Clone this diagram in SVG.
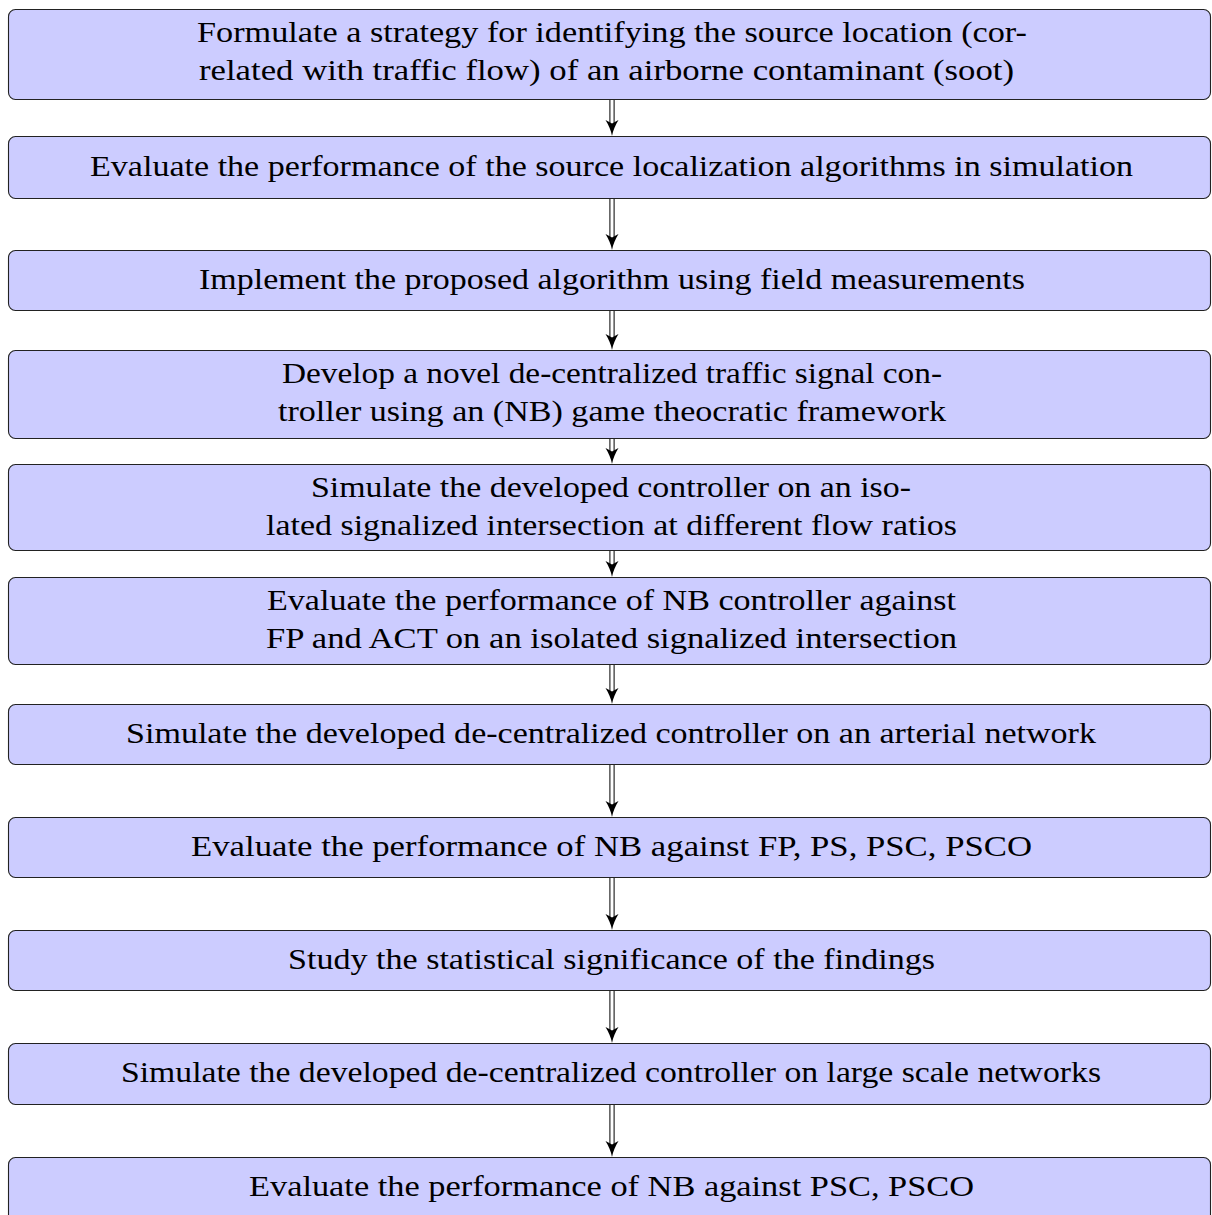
<svg xmlns="http://www.w3.org/2000/svg" width="1212" height="1215" viewBox="0 0 1212 1215">
<style>
.box{fill:#ccccff;stroke:#222;stroke-width:1.1}
.t{font-family:"Liberation Serif","Times New Roman",serif;font-size:29px;fill:#000}
.so{stroke:#000;stroke-width:5.2;fill:none}
.si{stroke:#fff;stroke-width:3.2;fill:none}
.hd{fill:#000}
</style>
<defs>
<path id="head" d="M0 0 C-1 -6 -3.5 -11 -6.5 -16 L0 -12.5 L6.5 -16 C3.5 -11 1 -6 0 0 Z"/>
</defs>
<rect width="1212" height="1215" fill="#fff"/>
<g id="connectors">
<g><line class="so" x1="612" y1="100" x2="612" y2="123"/><line class="si" x1="612" y1="99" x2="612" y2="123"/><use href="#head" x="612" y="136" class="hd"/></g>
<g><line class="so" x1="612" y1="199" x2="612" y2="237"/><line class="si" x1="612" y1="198" x2="612" y2="237"/><use href="#head" x="612" y="250" class="hd"/></g>
<g><line class="so" x1="612" y1="311" x2="612" y2="337"/><line class="si" x1="612" y1="310" x2="612" y2="337"/><use href="#head" x="612" y="350" class="hd"/></g>
<g><line class="so" x1="612" y1="439" x2="612" y2="451"/><line class="si" x1="612" y1="438" x2="612" y2="451"/><use href="#head" x="612" y="464" class="hd"/></g>
<g><line class="so" x1="612" y1="551" x2="612" y2="564"/><line class="si" x1="612" y1="550" x2="612" y2="564"/><use href="#head" x="612" y="577" class="hd"/></g>
<g><line class="so" x1="612" y1="665" x2="612" y2="691"/><line class="si" x1="612" y1="664" x2="612" y2="691"/><use href="#head" x="612" y="704" class="hd"/></g>
<g><line class="so" x1="612" y1="765" x2="612" y2="804"/><line class="si" x1="612" y1="764" x2="612" y2="804"/><use href="#head" x="612" y="817" class="hd"/></g>
<g><line class="so" x1="612" y1="878" x2="612" y2="917"/><line class="si" x1="612" y1="877" x2="612" y2="917"/><use href="#head" x="612" y="930" class="hd"/></g>
<g><line class="so" x1="612" y1="991" x2="612" y2="1030"/><line class="si" x1="612" y1="990" x2="612" y2="1030"/><use href="#head" x="612" y="1043" class="hd"/></g>
<g><line class="so" x1="612" y1="1105" x2="612" y2="1144"/><line class="si" x1="612" y1="1104" x2="612" y2="1144"/><use href="#head" x="612" y="1157" class="hd"/></g>
</g>
<g id="n1"><rect class="box" x="8.5" y="9.5" width="1202" height="90" rx="7"/>
<text class="t" x="197" y="42" textLength="830" lengthAdjust="spacingAndGlyphs">Formulate a strategy for identifying the source location (cor-</text>
<text class="t" x="199" y="80" textLength="815" lengthAdjust="spacingAndGlyphs">related with traffic flow) of an airborne contaminant (soot)</text></g>
<g id="n2"><rect class="box" x="8.5" y="136.5" width="1202" height="62" rx="7"/>
<text class="t" x="90" y="176" textLength="1043" lengthAdjust="spacingAndGlyphs">Evaluate the performance of the source localization algorithms in simulation</text></g>
<g id="n3"><rect class="box" x="8.5" y="250.5" width="1202" height="60" rx="7"/>
<text class="t" x="199" y="289" textLength="826" lengthAdjust="spacingAndGlyphs">Implement the proposed algorithm using field measurements</text></g>
<g id="n4"><rect class="box" x="8.5" y="350.5" width="1202" height="88" rx="7"/>
<text class="t" x="282" y="383" textLength="660" lengthAdjust="spacingAndGlyphs">Develop a novel de-centralized traffic signal con-</text>
<text class="t" x="278" y="421" textLength="668" lengthAdjust="spacingAndGlyphs">troller using an (NB) game theocratic framework</text></g>
<g id="n5"><rect class="box" x="8.5" y="464.5" width="1202" height="86" rx="7"/>
<text class="t" x="311" y="497" textLength="600" lengthAdjust="spacingAndGlyphs">Simulate the developed controller on an iso-</text>
<text class="t" x="266" y="535" textLength="691" lengthAdjust="spacingAndGlyphs">lated signalized intersection at different flow ratios</text></g>
<g id="n6"><rect class="box" x="8.5" y="577.5" width="1202" height="87" rx="7"/>
<text class="t" x="267" y="610" textLength="689" lengthAdjust="spacingAndGlyphs">Evaluate the performance of NB controller against</text>
<text class="t" x="266" y="648" textLength="691" lengthAdjust="spacingAndGlyphs">FP and ACT on an isolated signalized intersection</text></g>
<g id="n7"><rect class="box" x="8.5" y="704.5" width="1202" height="60" rx="7"/>
<text class="t" x="126" y="743" textLength="970" lengthAdjust="spacingAndGlyphs">Simulate the developed de-centralized controller on an arterial network</text></g>
<g id="n8"><rect class="box" x="8.5" y="817.5" width="1202" height="60" rx="7"/>
<text class="t" x="191" y="856" textLength="841" lengthAdjust="spacingAndGlyphs">Evaluate the performance of NB against FP, PS, PSC, PSCO</text></g>
<g id="n9"><rect class="box" x="8.5" y="930.5" width="1202" height="60" rx="7"/>
<text class="t" x="288" y="969" textLength="647" lengthAdjust="spacingAndGlyphs">Study the statistical significance of the findings</text></g>
<g id="n10"><rect class="box" x="8.5" y="1043.5" width="1202" height="61" rx="7"/>
<text class="t" x="121" y="1082" textLength="980" lengthAdjust="spacingAndGlyphs">Simulate the developed de-centralized controller on large scale networks</text></g>
<g id="n11"><rect class="box" x="8.5" y="1157.5" width="1202" height="70" rx="7"/>
<text class="t" x="249" y="1196" textLength="725" lengthAdjust="spacingAndGlyphs">Evaluate the performance of NB against PSC, PSCO</text></g>
</svg>
